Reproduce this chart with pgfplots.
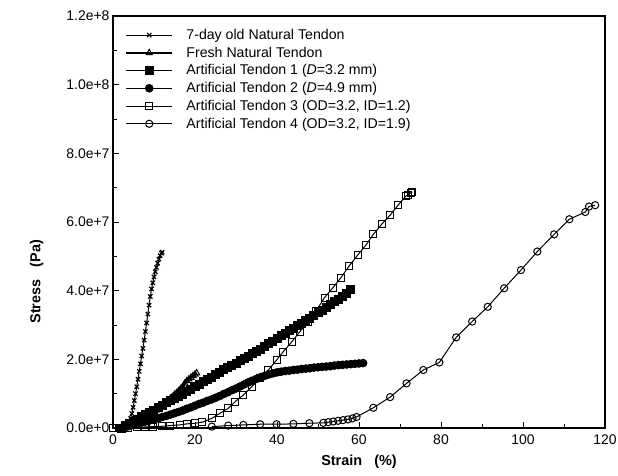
\documentclass[border=0pt]{standalone}
\usepackage{pgfplots}
\pgfplotsset{compat=1.18}
\usepackage{fontspec}
\setmainfont{Liberation Sans}

\begin{document}
\begin{tikzpicture}
\begin{axis}[
    scale only axis, width=492bp, height=412bp,
    xmin=0, xmax=120, ymin=0, ymax=1.2e8,
    xtick={0,20,40,60,80,100,120},
    minor xtick={10,30,50,70,90,110},
    ytick={0,2e7,4e7,6e7,8e7,1e8,1.2e8},
    minor ytick={1e7,3e7,5e7,7e7,9e7,1.1e8},
    yticklabels={0.0e+0,2.0e+7,4.0e+7,6.0e+7,8.0e+7,1.0e+8,1.2e+8},
    scaled y ticks=false,
    tick pos=left, tick align=inside,
    major tick length=6bp, minor tick length=4bp,
    axis line style={line width=1.3bp},
    every tick/.style={black, line width=0.9bp},
    tick label style={font=\fontsize{14}{16}\selectfont},
    xticklabel style={yshift=-3bp},
    /pgf/number format/assume math mode=true,
    xlabel={\textbf{Strain\ \ \ (\%)}},
    ylabel={\textbf{Stress\ \ \ (Pa)}},
    label style={font=\fontsize{14.5}{17}\selectfont},
    xlabel style={yshift=-4bp},
    ylabel style={at={(axis description cs:-0.155,0.355)}, anchor=center},
    legend style={at={(axis description cs:0.018,0.978)}, anchor=north west,
        draw=none, fill=none, font=\fontsize{14.2}{17}\selectfont,
        row sep=2bp, column sep=11bp},
    legend cell align=left,
    legend image code/.code={\draw[mark repeat=2,mark phase=2,#1]
        plot coordinates {(0bp,0bp) (23bp,0bp) (46bp,0bp)};},
]
% 7-day old natural tendon
\addplot[black, line width=1bp, mark=x, mark size=3bp,
    mark options={line width=1.2bp}] coordinates {
(2.8,0) (3.1,0.02e7) (3.4,0.05e7) (3.7,0.1e7) (4.0,0.18e7) (4.3,0.28e7)
(4.6,0.42e7) (4.9,0.6e7) (5.2,0.8e7) (5.5,1.0e7) (5.8,1.2e7) (6.1,1.42e7)
(6.4,1.65e7) (6.7,1.87e7) (7.0,2.1e7) (7.3,2.32e7) (7.6,2.56e7) (7.9,2.81e7)
(8.2,3.06e7) (8.5,3.32e7) (8.8,3.58e7) (9.1,3.83e7) (9.4,4.05e7) (9.7,4.23e7)
(10.0,4.4e7) (10.3,4.55e7) (10.6,4.68e7) (10.9,4.8e7) (11.2,4.92e7)
(11.5,5.02e7) (11.8,5.09e7) (12.0,5.12e7)
};
\addlegendentry{7-day old Natural Tendon}
% fresh natural tendon
\addplot[black, line width=2.4bp, mark=triangle, mark size=3.5bp,
    mark options={fill=white, line width=1bp}] coordinates {
(3,0) (3.5,0.01e7) (4,0.03e7) (4.5,0.05e7) (5,0.08e7) (5.5,0.11e7) (6,0.15e7)
(6.5,0.18e7) (7,0.22e7) (7.5,0.26e7) (8,0.3e7) (8.5,0.34e7) (9,0.38e7)
(9.5,0.42e7) (10,0.47e7) (10.5,0.51e7) (11,0.56e7) (11.5,0.6e7) (12,0.65e7)
(12.5,0.7e7) (13,0.75e7) (13.5,0.8e7) (14,0.86e7) (14.5,0.91e7) (15,0.97e7)
(15.5,1.02e7) (16,1.08e7) (16.5,1.14e7) (17,1.2e7) (17.5,1.3e7) (18,1.37e7)
(18.5,1.42e7) (19,1.47e7) (19.5,1.52e7) (20,1.56e7) (20.4,1.6e7)
};
\addlegendentry{Fresh Natural Tendon}
% artificial tendon 1
\addplot[black, line width=1bp, mark=square*, mark size=4bp] coordinates {
(2,0) (3,0.06e7) (4,0.12e7) (5,0.19e7) (6,0.26e7) (7,0.33e7) (8,0.39e7)
(9,0.46e7) (10,0.52e7) (11,0.59e7) (12,0.66e7) (13,0.73e7) (14,0.8e7)
(15,0.86e7) (16,0.92e7) (17,0.99e7) (18,1.06e7) (19,1.13e7) (20,1.2e7)
(21,1.27e7) (22,1.34e7) (23,1.41e7) (24,1.48e7) (25,1.55e7) (26,1.62e7)
(27,1.69e7) (28,1.75e7) (29,1.82e7) (30,1.89e7) (31,1.96e7) (32,2.02e7)
(33,2.09e7) (34,2.16e7) (35,2.23e7) (36,2.3e7) (37,2.38e7) (38,2.45e7)
(39,2.53e7) (40,2.61e7) (41,2.69e7) (42,2.76e7) (43,2.84e7) (44,2.91e7)
(45,2.98e7) (46,3.05e7) (47,3.13e7) (48,3.2e7) (49,3.28e7) (50,3.35e7)
(51,3.43e7) (52,3.51e7) (53,3.59e7) (54,3.67e7) (55,3.75e7) (56,3.84e7)
(57,3.93e7) (58,4.02e7)
};
\addlegendentry{Artificial Tendon 1 (\textit{D}=3.2 mm)}
% artificial tendon 2
\addplot[black, line width=1bp, mark=*, mark size=3.8bp] coordinates {
(2,0) (3,0.03e7) (4,0.07e7) (5,0.1e7) (6,0.13e7) (7,0.16e7) (8,0.19e7)
(9,0.22e7) (10,0.25e7) (11,0.28e7) (12,0.32e7) (13,0.35e7) (14,0.39e7)
(15,0.43e7) (16,0.47e7) (17,0.51e7) (18,0.56e7) (19,0.6e7) (20,0.65e7)
(21,0.7e7) (22,0.74e7) (23,0.79e7) (24,0.83e7) (25,0.88e7) (26,0.93e7)
(27,0.99e7) (28,1.04e7) (29,1.1e7) (30,1.15e7) (31,1.21e7) (32,1.27e7)
(33,1.33e7) (34,1.38e7) (35,1.43e7) (36,1.48e7) (37,1.52e7) (38,1.56e7)
(39,1.59e7) (40,1.62e7) (41,1.64e7) (42,1.66e7) (43,1.67e7) (44,1.69e7)
(45,1.7e7) (46,1.72e7) (47,1.73e7) (48,1.74e7) (49,1.76e7) (50,1.77e7)
(51,1.78e7) (52,1.79e7) (53,1.8e7) (54,1.82e7) (55,1.83e7) (56,1.84e7)
(57,1.85e7) (58,1.86e7) (59,1.87e7) (60,1.88e7) (61,1.89e7)
};
\addlegendentry{Artificial Tendon 2 (\textit{D}=4.9 mm)}
% artificial tendon 3
\addplot[black, line width=1bp, mark=square, mark size=3.5bp,
    mark options={fill=white}] coordinates {
(0,0) (1.5,0) (3.7,0.01e7) (5.8,0.02e7) (7.8,0.03e7) (9.8,0.04e7)
(11.9,0.05e7) (13.9,0.07e7) (16.3,0.09e7) (18,0.12e7) (20,0.14e7)
(21.8,0.17e7) (24.1,0.28e7) (26.1,0.43e7) (28.1,0.57e7) (29.8,0.77e7)
(31.8,0.96e7) (33.8,1.2e7) (35.9,1.45e7) (37.9,1.69e7) (39.9,1.98e7)
(41.5,2.22e7) (43.6,2.51e7) (45.6,2.81e7) (47.6,3.1e7) (49.6,3.42e7)
(51.6,3.8e7) (53.6,4.08e7) (55.6,4.38e7) (57.6,4.72e7) (59.7,5.04e7)
(61.7,5.33e7) (63.5,5.64e7) (65.5,5.93e7) (67.6,6.2e7) (69.6,6.5e7)
(71.5,6.76e7) (72.0,6.79e7) (72.6,6.85e7) (73.0,6.86e7)
};
\addlegendentry{Artificial Tendon 3 (OD=3.2, ID=1.2)}
% artificial tendon 4
\addplot[black, line width=1bp, mark=o, mark size=3.6bp,
    mark options={fill=white}] coordinates {
(24.1,0.04e7) (28.1,0.07e7) (31.8,0.09e7) (35.9,0.11e7) (39.9,0.11e7)
(44.0,0.12e7) (47.9,0.14e7) (51.3,0.15e7) (52.5,0.17e7) (53.7,0.19e7)
(54.9,0.21e7) (56.1,0.23e7) (57.3,0.25e7) (58.4,0.28e7) (59.4,0.32e7)
(63.5,0.59e7) (67.6,0.9e7) (71.6,1.3e7) (75.7,1.69e7) (79.6,1.91e7)
(83.7,2.64e7) (87.6,3.1e7) (91.4,3.53e7) (95.4,4.07e7) (99.5,4.6e7)
(103.5,5.14e7) (107.6,5.64e7) (111.3,6.08e7) (115.2,6.29e7) (116.1,6.45e7)
(117.6,6.49e7)
};
\addlegendentry{Artificial Tendon 4 (OD=3.2, ID=1.9)}
\end{axis}
\pgfresetboundingbox
\path ([shift={(-113bp,-48bp)}]current axis.south west)
    rectangle ([shift={(13bp,16bp)}]current axis.north east);
\end{tikzpicture}
\end{document}
